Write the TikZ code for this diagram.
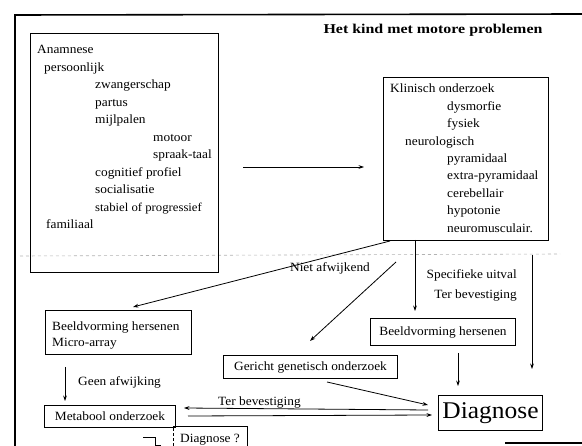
\documentclass[tikz,border=0pt]{standalone}
\usepackage{fontspec}
\setmainfont{Liberation Serif}[FakeStretch=1.06]
\newfontfamily\titlefont{Liberation Serif}[FakeStretch=1.18]
\usetikzlibrary{arrows.meta}
\begin{document}
\begin{tikzpicture}[x=1pt,y=-1pt,
  box/.style={draw,line width=1pt,inner sep=0pt,anchor=north west},
  txt/.style={inner sep=0pt,anchor=base west,font=\fontsize{12.6}{14}\selectfont},
  lbl/.style={inner sep=0pt,font=\fontsize{12.6}{14}\selectfont},
  arr/.style={line width=0.8pt,-{Stealth[length=5.5pt,width=3.8pt]}},
  frame/.style={line width=1.6pt}]
\useasboundingbox (0,0) rectangle (582,446);
% outer frame
\coordinate (f1) at (582,14);
\coordinate (f2) at (15,15);
\coordinate (f3) at (15,446);
\draw[frame] (f1) -- (f2) -- (f3);
\coordinate (f4) at (505,443);
\coordinate (f5) at (582,443);
\draw[frame] (f4) -- (f5);
% faint dashed fold line
\coordinate (d1) at (20,256);
\coordinate (d2) at (560,254);
\draw[gray!60,dashed,line width=0.6pt] (d1) -- (d2);
% title
\node[inner sep=0pt,font=\titlefont\fontsize{13.5}{15}\selectfont\bfseries] (title) at (433,30) {Het kind met motore problemen};
% Anamnese box
\node[box,minimum width=188pt,minimum height=239pt] (ana) at (30,33) {};
\node[txt] (a1) at (37,54) {Anamnese};
\node[txt] (a2) at (44,71.5) {persoonlijk};
\node[txt] (a3) at (95,89) {zwangerschap};
\node[txt] (a4) at (95,106.5) {partus};
\node[txt] (a5) at (95,124) {mijlpalen};
\node[txt] (a6) at (153,141.5) {motoor};
\node[txt] (a7) at (153,159) {spraak-taal};
\node[txt] (a8) at (95,176.5) {cognitief profiel};
\node[txt] (a9) at (95,194) {socialisatie};
\node[txt,font=\fontsize{12}{14}\selectfont] (a10) at (95,211.5) {stabiel of progressief};
\node[txt] (a11) at (46,229) {familiaal};
% Klinisch box
\node[box,minimum width=165pt,minimum height=163pt] (kli) at (383,77) {};
\node[txt] (k1) at (390,93) {Klinisch onderzoek};
\node[txt] (k2) at (447,110.4) {dysmorfie};
\node[txt] (k3) at (447,127.8) {fysiek};
\node[txt] (k4) at (405,145.2) {neurologisch};
\node[txt] (k5) at (447,162.6) {pyramidaal};
\node[txt] (k6) at (447,180) {extra-pyramidaal};
\node[txt] (k7) at (447,197.4) {cerebellair};
\node[txt] (k8) at (447,214.8) {hypotonie};
\node[txt] (k9) at (447,232.2) {neuromusculair.};
% arrow Anamnese -> Klinisch
\coordinate (c1) at (243,167);
\coordinate (c2) at (364,167);
\draw[arr] (c1) -- (c2);
% lower boxes
\node[box,minimum width=146pt,minimum height=44pt] (bh1) at (45,310) {};
\node[txt] (bh1a) at (52,331) {Beeldvorming hersenen};
\node[txt] (bh1b) at (52,347) {Micro-array};
\node[box,minimum width=145pt,minimum height=27pt] (bh2) at (370,318) {};
\node[lbl] (bh2t) at (bh2.center) {Beeldvorming hersenen};
\node[box,minimum width=174pt,minimum height=23pt] (gen) at (223,355) {};
\node[lbl] (gent) at (gen.center) {Gericht genetisch onderzoek};
\node[box,minimum width=104pt,minimum height=35pt] (dia) at (438,395) {};
\node[inner sep=0pt,font=\fontsize{24}{26}\selectfont] (diat) at (dia.center) {Diagnose};
\node[box,minimum width=131pt,minimum height=22pt] (met) at (44,405) {};
\node[lbl] (mett) at (met.center) {Metabool onderzoek};
% Diagnose ? box (cut off)
\coordinate (q1) at (173,446);
\coordinate (q2) at (173,427);
\coordinate (q3) at (247,427);
\coordinate (q4) at (247,446);
\draw[line width=1pt] (q2) -- (q3) -- (q4);
\draw[line width=0.8pt,densely dashed] (q1) -- (q2);
\node[lbl,anchor=base west] (qt) at (180,443) {Diagnose ?};
% small elbow
\coordinate (e1) at (143,437);
\coordinate (e2) at (155,437);
\coordinate (e3) at (155,445);
\coordinate (e4) at (161,445);
\draw[line width=0.8pt] (e1) -- (e2) -- (e3) -- (e4);
% arrows from Klinisch
\coordinate (o1) at (390,241);
\coordinate (t1) at (133,307);
\draw[arr] (o1) -- (t1);
\node[lbl] (niet) at (330,268) {Niet afwijkend};
\coordinate (o2) at (396,262);
\coordinate (t2) at (310,341);
\draw[arr] (o2) -- (t2);
\coordinate (o3) at (415,240);
\coordinate (t3) at (415,311);
\draw[arr] (o3) -- (t3);
\node[lbl,anchor=east] (spec) at (517,275) {Specifieke uitval};
\node[lbl,anchor=east] (terb1) at (517,295) {Ter bevestiging};
\coordinate (o4) at (532,255);
\coordinate (t4) at (532,369);
\draw[arr] (o4) -- (t4);
% Beeldvorming (right) -> Diagnose
\coordinate (o5) at (458,353);
\coordinate (t5) at (458,386);
\draw[arr] (o5) -- (t5);
% Gericht -> Diagnose
\coordinate (o6) at (327,382);
\coordinate (t6) at (428,405);
\draw[arr] (o6) -- (t6);
% Geen afwijking
\coordinate (o7) at (65,367);
\coordinate (t7) at (65,401);
\draw[arr] (o7) -- (t7);
\node[lbl,anchor=west] (geen) at (78,382) {Geen afwijking};
% Ter bevestiging (lower)
\coordinate (o8) at (428,410);
\coordinate (t8) at (184,408);
\draw[arr] (o8) -- (t8);
\node[lbl,anchor=west] (terb2) at (218,402) {Ter bevestiging};
\coordinate (o9) at (188,416);
\coordinate (t9) at (432,415);
\draw[arr] (o9) -- (t9);
\end{tikzpicture}
\end{document}
